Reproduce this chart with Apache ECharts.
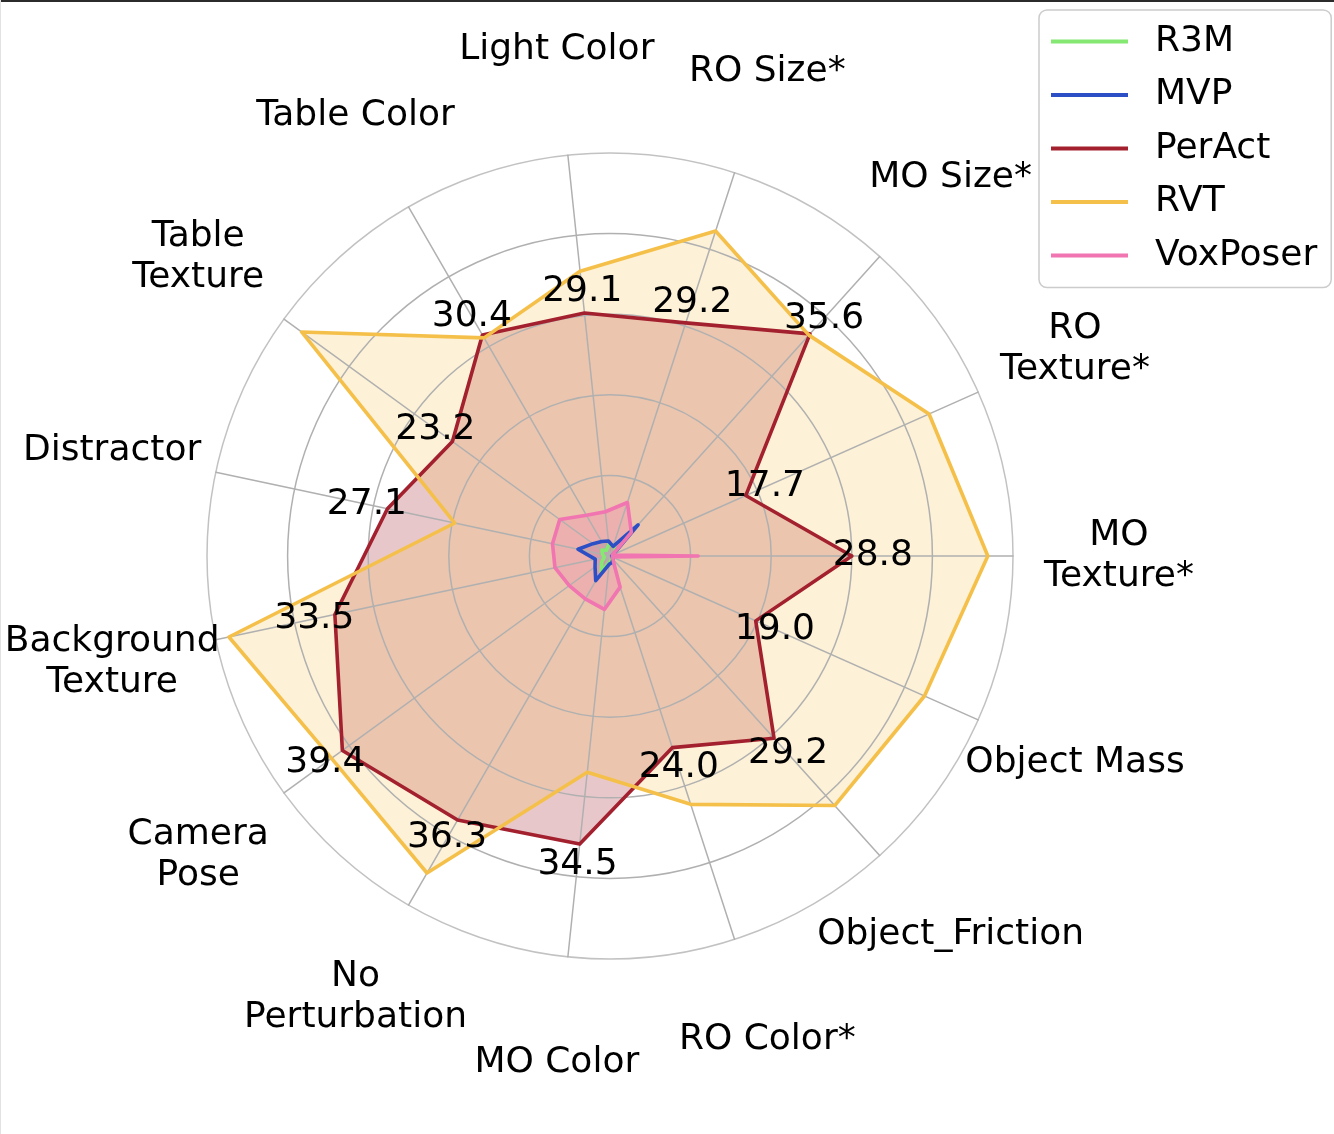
<!DOCTYPE html>
<html>
<head>
<meta charset="utf-8">
<script src="https://cdn.jsdelivr.net/npm/echarts@6/dist/echarts.min.js"></script>
<style>
html,body{margin:0;padding:0;background:#fff;}
#chart{position:absolute;left:0;top:0;width:1334px;height:1134px;}
#topline{position:absolute;left:0;top:0;width:1334px;height:2px;background:#2b2b2b;}
#leftline{position:absolute;left:0;top:0;width:1px;height:1134px;background:#e2e2e2;}
</style>
</head>
<body>
<div id="chart"></div>
<div id="topline"></div>
<div id="leftline"></div>
<script>
// ---- data ----
const categories = [
  'MO\nTexture*', 'RO\nTexture*', 'MO Size*', 'RO Size*', 'Light Color',
  'Table Color', 'Table\nTexture', 'Distractor', 'Background\nTexture', 'Camera\nPose',
  'No\nPerturbation', 'MO Color', 'RO Color*', 'Object_Friction', 'Object Mass'
];
const seriesNames = ['R3M', 'MVP', 'PerAct', 'RVT', 'VoxPoser'];
const r3m      = [0.3, 0.5, 1.0, 1.3, 1.4, 0.8, 1.2, 0.9, 0.7, 1.2, 2.1, 0.8, 0.5, 0.3, 0.2];
const mvp      = [0.2, 0.4, 5.0, 1.2, 1.8, 2.0, 2.5, 3.9, 1.8, 2.2, 3.4, 1.0, 0.8, 0.5, 0.3];
const perAct   = [28.8, 17.7, 35.6, 29.2, 29.1, 30.4, 23.2, 27.1, 33.5, 39.4, 36.3, 34.5, 24.0, 29.2, 19.0];
const rvt      = [45.0, 41.6, 35.4, 40.7, 34.1, 30.0, 45.4, 18.9, 46.4, 41.0, 43.6, 25.9, 31.1, 40.0, 41.0];
const voxPoser = [10.5, 0.3, 3.8, 6.7, 5.3, 5.6, 7.4, 7.0, 6.7, 6.0, 5.9, 6.4, 3.9, 0.5, 0.3];
const radialMax = 48;

// ---- style ----
const colors = ['#84e872', '#2c4fc5', '#a3202e', '#f5c04a', '#f075b0'];
const fillOpacity = [0.25, 0.25, 0.25, 0.22, 0.25];
const CX = 610, CY = 556, R = 403;
const LABEL_GAP = 21;
const FONT = 'DejaVu Sans';
const FS = 36;

const datasets = [r3m, mvp, perAct, rvt, voxPoser];

const fillSeries = datasets.map((vals, i) => ({
  type: 'radar', name: seriesNames[i], z: 1, silent: true,
  symbol: 'none',
  lineStyle: { width: 0, opacity: 0 },
  itemStyle: { color: colors[i] },
  areaStyle: { color: colors[i], opacity: fillOpacity[i] },
  data: [{ value: vals, name: seriesNames[i] }]
}));

const lineSeries = datasets.map((vals, i) => ({
  type: 'radar', name: seriesNames[i], z: 3, silent: true,
  symbol: 'none',
  itemStyle: { color: colors[i] },
  lineStyle: { color: colors[i], width: 3.6, join: 'round', cap: 'round' },
  data: [{ value: vals, name: seriesNames[i] }]
}));

const labelSeries = {
  type: 'radar', name: 'PerAct values', z: 4, silent: true,
  symbol: 'circle', symbolSize: 1,
  itemStyle: { color: 'rgba(0,0,0,0)' },
  lineStyle: { width: 0, opacity: 0 },
  label: {
    show: true,
    formatter: p => Number(p.value).toFixed(1),
    fontSize: FS, fontFamily: FONT, color: '#000'
  },
  labelLayout: function (p) {
    const x0 = p.rect.x + p.rect.width / 2;
    const y0 = p.rect.y + p.rect.height / 2;
    const dx = x0 - CX, dy = y0 - CY;
    const d = Math.hypot(dx, dy) || 1;
    return { x: x0 + dx / d * LABEL_GAP, y: y0 + dy / d * LABEL_GAP, align: 'center', verticalAlign: 'middle' };
  },
  data: [{ value: perAct, name: 'PerAct values' }]
};

const chart = echarts.init(document.getElementById('chart'), null, { renderer: 'canvas' });
chart.setOption({
  animation: false,
  backgroundColor: '#ffffff',
  legend: {
    orient: 'vertical', left: 1039, top: 10, z: 10,
    padding: [13.5, 14, 14, 12],
    itemWidth: 77, itemHeight: 4, itemGap: 17.5,
    icon: 'rect',
    selectedMode: false,
    backgroundColor: 'rgba(255,255,255,0.85)',
    borderColor: '#cccccc', borderWidth: 1.5, borderRadius: 8,
    textStyle: { fontSize: FS, fontFamily: FONT, color: '#000', lineHeight: 35, padding: [0, 0, 0, 22] },
    data: seriesNames.map((n, i) => ({ name: n, itemStyle: { color: colors[i], borderWidth: 0, opacity: 1 } }))
  },
  radar: {
    z: 2,
    center: [CX, CY], radius: R,
    startAngle: 0, shape: 'circle', splitNumber: 5,
    indicator: categories.map(n => ({ name: n, min: 0, max: radialMax })),
    nameGap: 106,
    axisName: {
      color: '#000', fontSize: FS, fontFamily: FONT, lineHeight: 41,
      align: 'center', verticalAlign: 'middle'
    },
    axisLine: { show: true, lineStyle: { color: '#b0b0b0', width: 1.5 } },
    splitLine: { show: true, lineStyle: { color: ['#b0b0b0', '#b0b0b0', '#b0b0b0', '#b0b0b0', '#b0b0b0', '#c2c2c2'], width: 1.5 } },
    splitArea: { show: false },
    axisTick: { show: false },
    axisLabel: { show: false }
  },
  series: fillSeries.concat(lineSeries, [labelSeries])
});
</script>
</body>
</html>
